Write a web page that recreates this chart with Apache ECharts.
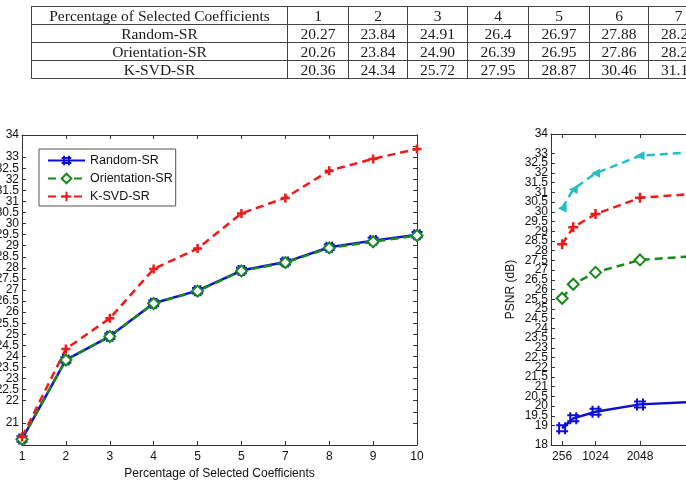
<!DOCTYPE html>
<html>
<head>
<meta charset="utf-8">
<script src="https://cdn.jsdelivr.net/npm/echarts@6/dist/echarts.min.js"></script>
<style>
    html, body { margin: 0; padding: 0; background: #fff; overflow: hidden; }
    #chart { position: absolute; left: 0; top: 0; width: 686px; height: 486px; }
    #tableWrap { position: absolute; left: 31px; top: 6px; width: 655px; overflow: hidden; }
    #tableWrap table {
        border-collapse: collapse;
        table-layout: fixed;
        font-family: 'Liberation Serif', 'Times New Roman', serif;
        font-size: 15.5px;
        color: #1a1a1a;
    }
    #tableWrap td {
        border: 1px solid #444;
        height: 17px;
        line-height: 17px;
        padding: 0;
        text-align: center;
        white-space: nowrap;
        overflow: hidden;
    }
</style>
</head>
<body>
<div id="chart"></div>
<div id="tableWrap"><table id="psnrTable"></table></div>
<script>
// left chart + table: PSNR vs percentage of selected coefficients
const pctSelected = [1, 2, 3, 4, 5, 6, 7, 8, 9, 10];
const pctTickLabels = ['1', '2', '3', '4', '5', '5', '7', '8', '9', '10'];
const randomSR = ['20.27', '23.84', '24.91', '26.4', '26.97', '27.88', '28.26', '28.93', '29.23', '29.49'];
const orientationSR = ['20.26', '23.84', '24.90', '26.39', '26.95', '27.86', '28.24', '28.90', '29.18', '29.46'];
const ksvdSR = ['20.36', '24.34', '25.72', '27.95', '28.87', '30.46', '31.16', '32.39', '32.92', '33.37'];
const leftYTicks = [21, 21.5, 22, 22.5, 23, 23.5, 24, 24.5, 25, 25.5, 26, 26.5, 27, 27.5,
    28, 28.5, 29, 29.5, 30, 30.5, 31, 31.5, 32, 32.5, 33, 33.5, 34];

// right chart: PSNR vs dictionary size
const dictSize = [256, 512, 1024, 2048, 4096];
const dictTickLabels = [256, 1024, 2048, 4096];
const dictCyan = [30.18, 31.15, 31.98, 32.88, 33.2];
const dictRed = [28.33, 29.2, 29.88, 30.72, 31.05];
const dictGreen = [25.55, 26.27, 26.88, 27.52, 27.85];
const dictBlue = [18.86, 19.37, 19.71, 20.09, 20.3];

// ---- table ----
const tableRows = [
    ['Percentage of Selected Coefficients'].concat(pctSelected.map(String)),
    ['Random-SR'].concat(randomSR),
    ['Orientation-SR'].concat(orientationSR),
    ['K-SVD-SR'].concat(ksvdSR)
];
const colWidths = [256, 61, 59, 60, 61, 61, 59, 60, 60, 60, 60];
let html = '<colgroup>' + colWidths.map(w => '<col style="width:' + w + 'px">').join('') + '</colgroup>';
tableRows.forEach(function (row) {
    html += '<tr>' + row.map(c => '<td>' + c + '</td>').join('') + '</tr>';
});
const tableEl = document.getElementById('psnrTable');
tableEl.innerHTML = html;
tableEl.style.width = colWidths.reduce((a, b) => a + b, 0) + 'px';

// ---- chart ----
const chart = echarts.init(document.getElementById('chart'));

const FONT = "'Liberation Sans', Arial, sans-serif";
const AXIS = '#333';
const BLUE = '#0c0cdc';
const GREEN = '#178a17';
const RED = '#f01a1a';
const CYAN = '#22c0c4';
const HASH = 'path://M3,0V12M9,0V12M0,3H12M0,9H12';
const PLUS = 'path://M6,0V12M0,6H12';

function pairs(xs, ys) {
    return xs.map((x, i) => [x, Number(ys[i])]);
}

function frameAxis(base) {
    return Object.assign({
        axisLine: { show: true, onZero: false, lineStyle: { color: AXIS, width: 1 } },
        axisTick: { show: true, inside: true, length: 4, lineStyle: { color: AXIS } },
        splitLine: { show: false },
        axisLabel: { show: false }
    }, base);
}

const labelStyle = { color: '#111', fontSize: 12, fontFamily: FONT };
const labelBase = Object.assign({ show: true, showMinLabel: true, showMaxLabel: true, hideOverlap: false }, labelStyle);

const option = {
    animation: false,
    backgroundColor: '#fff',
    grid: [
        { left: 22, top: 135, width: 395, height: 310, containLabel: false, outerBoundsMode: 'none' },
        { left: 551, top: 134, width: 178, height: 311, containLabel: false, outerBoundsMode: 'none' }
    ],
    legend: {
        data: ['Random-SR', 'Orientation-SR', 'K-SVD-SR'],
        orient: 'vertical',
        left: 39,
        top: 149,
        padding: [5, 3, 3, 8],
        itemWidth: 37,
        itemHeight: 12,
        itemGap: 5,
        backgroundColor: '#fff',
        borderColor: '#555',
        borderWidth: 1,
        borderRadius: 0,
        textStyle: { color: '#111', fontSize: 12.5, fontFamily: FONT }
    },
    xAxis: [
        frameAxis({
            type: 'value', gridIndex: 0, position: 'bottom', min: 1, max: 10, interval: 1,
            name: 'Percentage of Selected Coefficients',
            nameLocation: 'middle', nameGap: 22,
            nameTextStyle: labelStyle,
            axisLabel: Object.assign({}, labelBase, {
                margin: 6,
                formatter: v => pctTickLabels[pctSelected.indexOf(v)]
            })
        }),
        frameAxis({ type: 'value', gridIndex: 0, position: 'top', min: 1, max: 10, interval: 1 }),
        frameAxis({
            type: 'value', gridIndex: 1, position: 'bottom', min: 0, max: 4096,
            axisTick: { show: true, inside: true, length: 4, lineStyle: { color: AXIS }, customValues: dictTickLabels },
            axisLabel: Object.assign({}, labelBase, {
                margin: 6, customValues: dictTickLabels, formatter: v => String(v)
            })
        }),
        frameAxis({
            type: 'value', gridIndex: 1, position: 'top', min: 0, max: 4096,
            axisTick: { show: true, inside: true, length: 4, lineStyle: { color: AXIS }, customValues: dictTickLabels }
        })
    ],
    yAxis: [
        frameAxis({
            type: 'value', gridIndex: 0, position: 'left', min: 20, max: 34, interval: 0.5,
            axisTick: { show: true, inside: true, length: 4, lineStyle: { color: AXIS }, customValues: leftYTicks },
            axisLabel: Object.assign({}, labelBase, { margin: 3, customValues: leftYTicks })
        }),
        frameAxis({
            type: 'value', gridIndex: 0, position: 'right', min: 20, max: 34, interval: 0.5,
            axisTick: { show: true, inside: true, length: 4, lineStyle: { color: AXIS }, customValues: leftYTicks }
        }),
        frameAxis({
            type: 'value', gridIndex: 1, position: 'left', min: 18, max: 34, interval: 0.5,
            name: 'PSNR (dB)', nameLocation: 'middle', nameGap: 34, nameRotate: 90,
            nameTextStyle: labelStyle,
            axisLabel: Object.assign({}, labelBase, { margin: 3 })
        })
    ],
    series: [
        {
            name: 'Random-SR', type: 'line', xAxisIndex: 0, yAxisIndex: 0,
            data: pairs(pctSelected, randomSR),
            symbol: HASH, symbolSize: 11,
            lineStyle: { color: BLUE, width: 2.5 },
            itemStyle: { color: BLUE, borderColor: BLUE, borderWidth: 2 }
        },
        {
            name: 'Orientation-SR', type: 'line', xAxisIndex: 0, yAxisIndex: 0,
            data: pairs(pctSelected, orientationSR),
            symbol: 'emptyDiamond', symbolSize: 11,
            lineStyle: { color: GREEN, width: 2.5, type: [8, 5] },
            itemStyle: { color: GREEN, borderColor: GREEN, borderWidth: 3 }
        },
        {
            name: 'K-SVD-SR', type: 'line', xAxisIndex: 0, yAxisIndex: 0,
            data: pairs(pctSelected, ksvdSR),
            symbol: PLUS, symbolSize: 9,
            lineStyle: { color: RED, width: 2.5, type: [8, 5] },
            itemStyle: { color: RED, borderColor: RED, borderWidth: 2.5 }
        },
        {
            name: 'dict-cyan', type: 'line', xAxisIndex: 2, yAxisIndex: 2,
            data: pairs(dictSize, dictCyan),
            symbol: 'triangle', symbolRotate: 90, symbolSize: 9,
            lineStyle: { color: CYAN, width: 2.5, type: [8, 5] },
            itemStyle: { color: CYAN }
        },
        {
            name: 'dict-red', type: 'line', xAxisIndex: 2, yAxisIndex: 2,
            data: pairs(dictSize, dictRed),
            symbol: PLUS, symbolSize: 10,
            lineStyle: { color: RED, width: 2.5, type: [8, 5] },
            itemStyle: { color: RED, borderColor: RED, borderWidth: 2.5 }
        },
        {
            name: 'dict-green', type: 'line', xAxisIndex: 2, yAxisIndex: 2,
            data: pairs(dictSize, dictGreen),
            symbol: 'emptyDiamond', symbolSize: 11,
            lineStyle: { color: GREEN, width: 2.5, type: [8, 5] },
            itemStyle: { color: GREEN, borderColor: GREEN, borderWidth: 3 }
        },
        {
            name: 'dict-blue', type: 'line', xAxisIndex: 2, yAxisIndex: 2,
            data: pairs(dictSize, dictBlue),
            symbol: HASH, symbolSize: 12,
            lineStyle: { color: BLUE, width: 2.5 },
            itemStyle: { color: BLUE, borderColor: BLUE, borderWidth: 2 }
        }
    ]
};

chart.setOption(option);

window.addEventListener('resize', function () {
    chart.resize();
});
</script>
</body>
</html>
